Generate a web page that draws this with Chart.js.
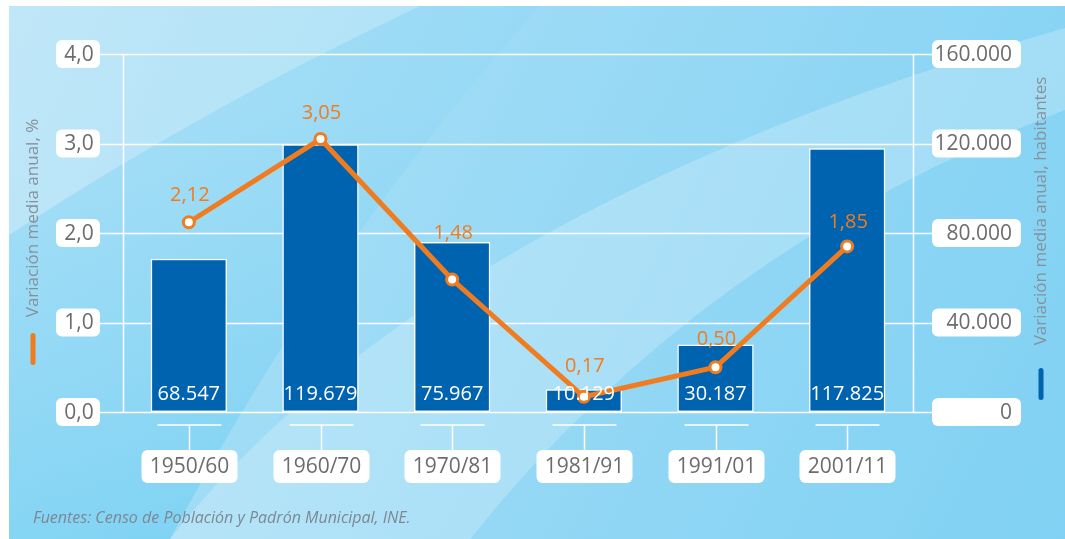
<!DOCTYPE html>
<html lang="es">
<head>
<meta charset="utf-8">
<script src="https://cdn.jsdelivr.net/npm/chart.js@4/dist/chart.umd.min.js"></script>
<style>
  html, body { margin: 0; padding: 0; background: #fff; }
  #wrap { position: relative; width: 1065px; height: 539px; }
</style>
</head>
<body>
<div id="wrap"><canvas id="grafico" width="1065" height="539"></canvas></div>
<script>
// ─── Datos ───────────────────────────────────────────────────────────────────

const periodos   = ["1950/60", "1960/70", "1970/81", "1981/91", "1991/01", "2001/11"];
const habitantes = [68547, 119679, 75967, 10129, 30187, 117825];
const porcentaje = [2.12, 3.05, 1.48, 0.17, 0.50, 1.85];
const ticksPct   = [0, 1, 2, 3, 4];
const ticksHab   = [0, 40000, 80000, 120000, 160000];

// ─── Estilo ──────────────────────────────────────────────────────────────────

const AZUL    = "#0063b0";
const NARANJA = "#f07c1f";
const GRIS    = "#6c6c6c";
const FUENTE  = "'Open Sans', 'Noto Sans', sans-serif";
const labelLift = [27, 26, 46, 30, 28, 24];   // altura de las etiquetas naranjas

const fmtMiles = v => String(v).replace(/\B(?=(\d{3})+(?!\d))/g, ".");
const fmtPct   = (v, d) => v.toFixed(d).replace(".", ",");

function roundRect(ctx, x, y, w, h, r) {
  ctx.beginPath();
  ctx.moveTo(x + r, y);
  ctx.arcTo(x + w, y, x + w, y + h, r);
  ctx.arcTo(x + w, y + h, x, y + h, r);
  ctx.arcTo(x, y + h, x, y, r);
  ctx.arcTo(x, y, x + w, y, r);
  ctx.closePath();
}

// ─── Fondo + rejilla + etiquetas ─────────────────────────────────────────────

const decoracion = {
  id: "decoracion",
  beforeDraw(chart) {
    const ctx = chart.ctx;
    const W = chart.width, H = chart.height;
    ctx.save();
    ctx.fillStyle = "#fff";
    ctx.fillRect(0, 0, W, H);

    // base
    const g = ctx.createLinearGradient(9, 6, W, H);
    g.addColorStop(0, "#b2e2f7");
    g.addColorStop(0.5, "#97d9f5");
    g.addColorStop(1, "#80d1f3");
    ctx.fillStyle = g;
    ctx.fillRect(9, 6, W - 9, H - 6);

    // esquina clara arriba a la izquierda
    ctx.fillStyle = "rgba(255,255,255,0.18)";
    ctx.beginPath();
    ctx.moveTo(9, 6);
    ctx.lineTo(420, 6);
    ctx.quadraticCurveTo(200, 110, 9, 235);
    ctx.closePath();
    ctx.fill();

    // zona más oscura abajo a la izquierda
    const gd = ctx.createLinearGradient(0, 100, 0, 539);
    gd.addColorStop(0, "rgba(90,200,240,0.08)");
    gd.addColorStop(1, "rgba(70,195,240,0.35)");
    ctx.fillStyle = gd;
    ctx.beginPath();
    ctx.moveTo(9, 235);
    ctx.quadraticCurveTo(200, 110, 420, 6);
    ctx.lineTo(540, 6);
    ctx.quadraticCurveTo(330, 240, 170, 539);
    ctx.lineTo(9, 539);
    ctx.closePath();
    ctx.fill();

    // franja clara diagonal
    ctx.fillStyle = "rgba(255,255,255,0.22)";
    ctx.beginPath();
    ctx.moveTo(170, 539);
    ctx.quadraticCurveTo(430, 210, 1065, 28);
    ctx.lineTo(1065, 110);
    ctx.quadraticCurveTo(700, 250, 470, 539);
    ctx.closePath();
    ctx.fill();
    ctx.restore();
  },

  beforeDatasetsDraw(chart) {
    const ctx = chart.ctx;
    const { left, right, top, bottom } = chart.chartArea;
    const yL = chart.scales.y, yR = chart.scales.y1, x = chart.scales.x;
    ctx.save();
    ctx.strokeStyle = "#fff";
    ctx.lineWidth = 1.5;

    // líneas horizontales y cajas de los ejes
    ticksPct.forEach(v => {
      const py = Math.round(yL.getPixelForValue(v)) + 0.5;
      ctx.beginPath();
      ctx.moveTo(100, py);
      ctx.lineTo(932, py);
      ctx.stroke();
    });
    ctx.beginPath();
    ctx.moveTo(left + 0.5, top);
    ctx.lineTo(left + 0.5, bottom);
    ctx.moveTo(right + 0.5, top);
    ctx.lineTo(right + 0.5, bottom);
    ctx.stroke();

    ctx.font = "21px " + FUENTE;
    ctx.textBaseline = "middle";
    ticksPct.forEach(v => {
      const py = yL.getPixelForValue(v);
      ctx.fillStyle = "#fff";
      roundRect(ctx, 56, py - 14, 44, 28, 6);
      ctx.fill();
      ctx.fillStyle = GRIS;
      ctx.textAlign = "center";
      ctx.fillText(fmtPct(v, 1), 79, py + 1);
    });
    ticksHab.forEach(v => {
      const py = yR.getPixelForValue(v);
      ctx.fillStyle = "#fff";
      roundRect(ctx, 932, py - 14, 89, 28, 6);
      ctx.fill();
      ctx.fillStyle = GRIS;
      ctx.textAlign = "right";
      ctx.fillText(fmtMiles(v), 1012, py + 1);
    });

    // categorías
    periodos.forEach((p, i) => {
      const cx = Math.round(x.getPixelForValue(i)) + 0.5;
      ctx.beginPath();
      ctx.moveTo(cx - 32, 425);
      ctx.lineTo(cx + 32, 425);
      ctx.moveTo(cx, 425);
      ctx.lineTo(cx, 450);
      ctx.stroke();
      ctx.fillStyle = "#fff";
      roundRect(ctx, cx - 48, 450, 96, 33, 6);
      ctx.fill();
      ctx.fillStyle = GRIS;
      ctx.textAlign = "center";
      ctx.fillText(p, cx, 467);
    });

    // títulos de los ejes
    ctx.font = "17px " + FUENTE;
    ctx.fillStyle = "#87919a";
    ctx.textAlign = "center";
    ctx.save();
    ctx.translate(33, 218);
    ctx.rotate(-Math.PI / 2);
    ctx.fillText("Variación media anual, %", 0, 0);
    ctx.restore();
    ctx.save();
    ctx.translate(1041, 211);
    ctx.rotate(-Math.PI / 2);
    ctx.fillText("Variación media anual, habitantes", 0, 0);
    ctx.restore();

    // marcas de leyenda
    ctx.fillStyle = NARANJA;
    roundRect(ctx, 30.5, 333, 5, 32, 2.5);
    ctx.fill();
    ctx.fillStyle = AZUL;
    roundRect(ctx, 1038.5, 368, 5, 32, 2.5);
    ctx.fill();

    // fuente
    ctx.font = "italic 16px " + FUENTE;
    ctx.fillStyle = "#7c8893";
    ctx.textAlign = "left";
    ctx.fillText("Fuentes: Censo de Población y Padrón Municipal, INE.", 33, 518);
    ctx.restore();
  },

  afterDatasetsDraw(chart) {
    const ctx = chart.ctx;
    ctx.save();
    ctx.textAlign = "center";
    ctx.textBaseline = "middle";
    ctx.font = "20px " + FUENTE;

    const barras = chart.getDatasetMeta(0).data;
    ctx.fillStyle = "#fff";
    barras.forEach((b, i) => ctx.fillText(fmtMiles(habitantes[i]), b.x, b.base - 18));

    const puntos = chart.getDatasetMeta(1).data;
    ctx.fillStyle = NARANJA;
    puntos.forEach((p, i) => ctx.fillText(fmtPct(porcentaje[i], 2), p.x + 1, p.y - labelLift[i]));
    ctx.restore();
  }
};

// ─── Gráfico ─────────────────────────────────────────────────────────────────

new Chart(document.getElementById("grafico"), {
  type: "bar",
  data: {
    labels: periodos,
    datasets: [
      {
        type: "bar",
        data: habitantes,
        yAxisID: "y1",
        backgroundColor: AZUL,
        borderColor: "#fff",
        borderWidth: 1.5,
        borderSkipped: false,
        barPercentage: 0.58,
        categoryPercentage: 1,
        order: 2,
      },
      {
        type: "line",
        data: porcentaje,
        yAxisID: "y",
        borderColor: NARANJA,
        borderWidth: 5,
        tension: 0,
        pointRadius: 5.5,
        pointBackgroundColor: "#fff",
        pointBorderColor: NARANJA,
        pointBorderWidth: 3,
        order: 1,
      }
    ]
  },
  options: {
    responsive: false,
    animation: false,
    layout: { padding: { left: 123, right: 152, top: 54, bottom: 127 } },
    plugins: { legend: { display: false }, tooltip: { enabled: false } },
    scales: {
      x:  { display: false },
      y:  { display: false, position: "left",  min: 0, max: 4 },
      y1: { display: false, position: "right", min: 0, max: 160000 },
    }
  },
  plugins: [decoracion]
});
</script>
</body>
</html>
